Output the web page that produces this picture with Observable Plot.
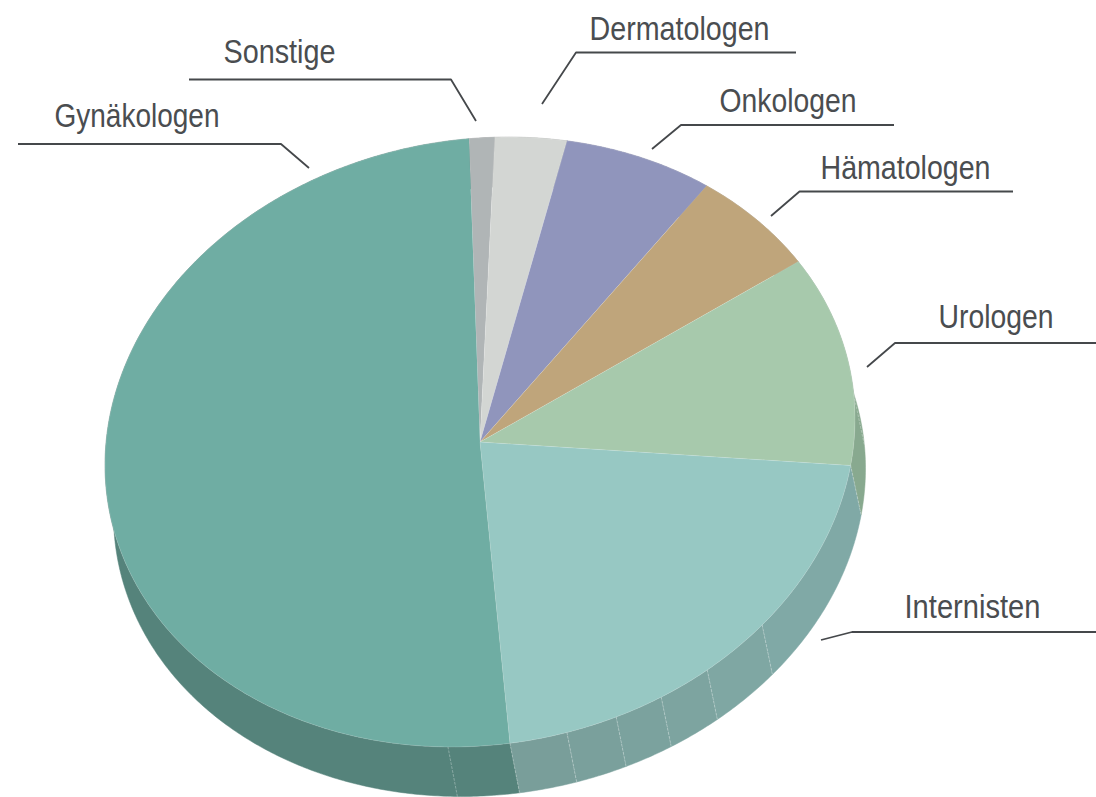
<!DOCTYPE html>
<html lang="de">
<head>
<meta charset="utf-8">
<title>Facharztgruppen</title>
<script src="https://cdn.jsdelivr.net/npm/d3@7"></script>
<script src="https://cdn.jsdelivr.net/npm/@observablehq/plot@0.6"></script>
<style>
html,body{margin:0;padding:0;background:#fff;overflow:hidden}
svg{display:block}
</style>
</head>
<body>
<div id="chart"></div>
<script>
// Data (percent of the pie, clockwise from the top)
const categories = ["Sonstige","Dermatologen","Onkologen","Hämatologen","Urologen","Internisten","Gynäkologen"];
const shares = [1.1,3.1,6.6,5.8,11.3,21.3,50.8];
const topColors = ["#b0b5b6","#d3d6d3","#9095bc","#bfa57b","#a7c9ac","#97c8c3","#6fada3"];
const sideColors = ["#8e9192","#a9aba9","#73779a","#988462","#88a98f","#7fa8a5","#55837b"];
// The Internisten wall is shaded facet by facet, from right to bottom
const internistenFacets = ["#80a9a6","#7fa7a3","#7da4a0","#7ba29e","#7aa09c","#799e9a"];

// Layout: pie tilt, in page units of the x and y scales
const pie3d = {cx:479.5, cy:441.5, rx:375, skew:-23, ry:304.1, dx:9.5, dxSpread:1, dy:49.5, start:-91.7};
const seamAngles = [-4.5,41.2,52.7,61.1,68.7,76.6,94.9];
const labelX = [223,589,719,820,938,904,54];
const labelY = [62,39,111,178,327,617,126];
const labelWidth = [112,180,137,170,115,136,165];
const leaders = [
  [[188.5,79],[450.5,79],[475.5,120.5]],
  [[541.5,103.5],[575.5,52],[795.5,52]],
  [[651.5,148.5],[680.5,124.5],[893.5,124.5]],
  [[770.5,215.5],[799,191],[1012.5,191]],
  [[866.5,366.5],[894.5,342.5],[1096,342.5]],
  [[820.5,639.5],[851.5,631.5],[1096,631.5]],
  [[17.5,143.5],[280.5,143.5],[308.5,167.5]]
];

const rad = Math.PI/180;
const rim = (deg, down=0) => ({
  x: pie3d.cx + pie3d.rx*Math.cos(deg*rad) + down*(pie3d.dx + pie3d.dxSpread*Math.cos(deg*rad)),
  y: pie3d.cy + pie3d.skew*Math.cos(deg*rad) + pie3d.ry*Math.sin(deg*rad) + down*pie3d.dy
});

const arcs = d3.pie().sort(null).value(d=>d).startAngle(pie3d.start*rad).endAngle((pie3d.start+360)*rad)(shares);
const spans = arcs.map((a,i)=>({name:categories[i], a0:a.startAngle/rad, a1:a.endAngle/rad, top:topColors[i], side:sideColors[i]}));
const sweep = (a0,a1) => d3.range(0,1.0001,1/Math.max(2,Math.ceil((a1-a0)/0.5))).map(f=>a0+(a1-a0)*f);

const topPts = spans.flatMap(s=>[
  {name:s.name,color:s.top,x:pie3d.cx,y:pie3d.cy},
  ...sweep(s.a0,s.a1).map(a=>({name:s.name,color:s.top,...rim(a)}))
]);

// Wall pieces: one per slice, with Internisten cut at its seams
const intSpan = spans[5];
const intCuts = [intSpan.a0, ...seamAngles.filter(a=>a>intSpan.a0 && a<intSpan.a1), intSpan.a1];
const walls = spans.flatMap(s=> s===intSpan
  ? d3.pairs(intCuts).map(([a0,a1],i)=>({id:"int"+i,a0,a1,color:internistenFacets[i]}))
  : [{id:s.name,a0:s.a0,a1:s.a1,color:s.side}]);
const sidePts = walls.flatMap(w=>{
  const as = sweep(w.a0,w.a1);
  return [
    ...as.map(a=>({id:w.id,color:w.color,...rim(a)})),
    ...as.slice().reverse().map(a=>({id:w.id,color:w.color,...rim(a,1)}))
  ];
});
const seams = seamAngles.concat(spans[4].a1, spans[5].a1).flatMap((a,i)=>[
  {id:i,...rim(a)},{id:i,...rim(a,1)}
]);
const leaderPts = leaders.flatMap((l,i)=>l.map(([x,y])=>({id:i,x,y})));
const labels = categories.map((name,i)=>({name,x:labelX[i],y:labelY[i]}));

const chart = Plot.plot({
  width:1096, height:797,
  margin:0,
  x:{domain:[0,1096],axis:null},
  y:{domain:[797,0],axis:null},
  color:{type:"identity"},
  style:{background:"#fff"},
  marks:[
    Plot.line(sidePts,{x:"x",y:"y",z:"id",fill:"color",stroke:"color",strokeWidth:0.5,curve:"linear"}),
    Plot.line(seams,{x:"x",y:"y",z:"id",stroke:"#fff",strokeOpacity:0.3,strokeWidth:1,strokeDasharray:"2,2"}),
    Plot.line(topPts,{x:"x",y:"y",z:"name",fill:"color",stroke:"#fff",strokeOpacity:0.25,strokeWidth:0.6,curve:"linear"}),
    Plot.line(leaderPts,{x:"x",y:"y",z:"id",stroke:"#45484b",strokeWidth:1.8,strokeLinejoin:"miter",strokeLinecap:"butt"}),
    Plot.text(labels,{x:"x",y:"y",text:"name",textAnchor:"start",lineAnchor:"bottom",
      fontFamily:"'Liberation Sans',sans-serif",fontSize:34,fill:"#4a4d50",className:"pie-label"})
  ]
});
document.getElementById("chart").appendChild(chart);
// The reference face is condensed: fit each label to its measured width
chart.querySelectorAll(".pie-label text").forEach(t=>{
  const i = categories.indexOf(t.textContent);
  t.setAttribute("textLength", labelWidth[i]);
  t.setAttribute("lengthAdjust","spacingAndGlyphs");
});
</script>
</body>
</html>
